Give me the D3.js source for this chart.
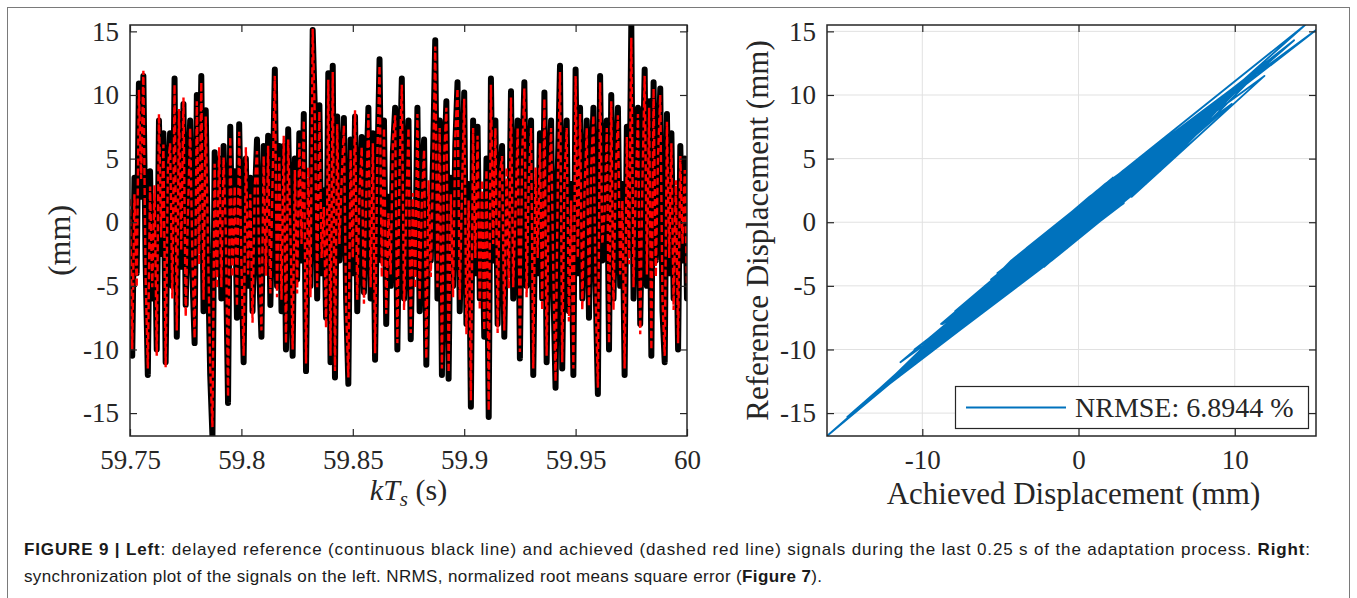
<!DOCTYPE html>
<html><head><meta charset="utf-8">
<script src="https://cdn.jsdelivr.net/npm/d3@7"></script>
<style>
html,body{margin:0;padding:0;background:#fff;}
svg{display:block;}
</style></head>
<body>
<svg id="c" width="1357" height="598"></svg>
<script>
// time window (s) and sample step
const tStart = 59.75, tEnd = 60.0, sampleStep = 0.001;
// delayed reference signal (mm), black line
const referenceDisp = [0.5,-10.5,3.5,-4.0,10.9,2.0,11.5,-3.0,-12.0,4.0,-6.0,1.5,-10.0,8.0,-2.5,7.0,-11.0,3.0,7.0,-5.0,
11.3,-9.0,8.5,-3.5,9.3,-6.5,2.0,8.0,-4.0,-9.5,10.0,-2.0,11.5,-7.0,8.8,-3.0,-12.0,-16.8,5.5,-4.0,
5.0,-6.0,6.0,-2.0,-14.2,7.5,-3.0,4.0,-7.5,7.7,-2.0,-11.0,5.0,-5.0,3.5,-7.0,1.5,6.5,-4.0,-9.0,
6.0,-3.0,6.8,-6.5,2.0,12.0,-5.0,6.0,-7.0,6.0,-10.0,7.3,-2.0,-10.5,5.0,-4.5,7.0,-3.0,8.5,-11.7,
3.0,-5.0,15.1,8.5,-6.0,9.2,-4.0,2.5,-7.5,11.7,-11.0,12.3,-12.2,8.3,-3.0,2.0,8.2,-6.0,-12.7,6.5,
-4.0,8.3,-7.0,1.0,6.7,-5.5,3.0,9.0,-6.0,7.0,-10.8,4.0,12.8,-3.0,8.0,-8.0,2.0,-5.0,5.5,9.0,
-10.0,3.0,11.3,-6.0,2.5,8.0,-9.2,1.0,-4.0,9.0,-7.0,3.0,6.5,-11.2,2.0,-3.0,5.0,14.3,-6.0,8.0,
-12.0,4.0,9.5,-12.3,3.5,-5.0,6.0,11.0,-7.0,1.0,10.2,-8.0,3.0,-14.5,8.0,-4.0,7.5,-6.0,2.0,-9.0,
5.0,-15.3,11.3,-3.0,8.0,-8.0,2.5,6.0,-9.0,3.0,-4.0,10.3,-6.0,2.0,8.0,-10.7,4.0,11.0,-5.0,2.0,
8.0,-12.0,3.0,-4.0,7.0,-6.0,10.2,-11.0,1.5,8.0,-5.0,-13.0,4.0,12.3,-11.5,2.0,8.0,-7.0,3.0,-12.0,
12.0,-4.0,9.0,-6.0,1.0,8.0,-7.5,3.0,9.0,-5.0,-13.5,11.5,-3.0,2.0,8.0,-10.0,10.0,-6.0,2.5,9.0,
-5.0,3.0,-12.0,7.5,-2.0,15.5,-6.0,4.0,9.0,-8.0,2.0,12.0,-5.0,9.5,-10.5,11.0,-3.0,4.0,10.5,-7.0,
-11.0,8.5,-4.0,7.0,-6.0,2.0,-10.0,6.0,-3.0,5.0,-6.0];
// achieved signal (mm), dashed red line
const achievedDisp = [1.8,-10.0,2.2,-5.1,10.4,3.4,11.9,-4.3,-11.5,2.8,-5.1,2.9,-10.5,8.5,-1.2,6.1,-11.4,4.3,6.2,-6.0,
10.8,-8.5,8.9,-2.2,9.8,-7.4,0.7,7.4,-2.8,-9.1,9.5,-3.3,11.0,-6.1,8.3,-1.7,-11.4,-16.1,4.6,-5.2,
5.9,-5.1,5.1,-0.7,-13.7,6.7,-4.3,2.8,-6.6,7.1,-3.3,-10.5,5.9,-4.1,2.2,-7.9,2.8,5.6,-2.8,-8.5,
5.2,-4.2,6.0,-5.6,3.3,11.5,-5.9,5.1,-6.1,6.8,-9.5,6.5,-0.7,-10.0,4.1,-5.6,6.2,-1.7,8.0,-11.1,
4.3,-5.9,15.2,7.9,-5.1,8.7,-2.8,1.2,-8.3,11.2,-10.5,11.8,-11.7,7.7,-1.7,3.3,7.6,-6.9,-12.2,5.7,
-2.8,8.8,-6.1,2.3,5.9,-6.4,1.7,8.5,-5.1,6.2,-10.3,5.2,12.3,-4.3,7.4,-7.2,0.7,-4.1,6.4,8.4,
-9.5,4.3,10.8,-6.9,1.2,7.4,-8.7,2.3,-5.2,8.5,-6.1,1.7,5.7,-10.7,3.3,-4.3,4.1,13.8,-5.1,7.4,
-11.5,5.2,9.0,-11.8,2.2,-5.9,6.8,10.5,-6.1,2.3,9.7,-8.8,1.7,-14.0,7.4,-2.8,6.8,-6.9,3.3,-8.5,
4.1,-14.8,10.8,-1.7,7.4,-8.7,3.8,5.2,-8.5,4.3,-5.2,9.8,-5.1,0.7,7.4,-10.2,5.2,10.5,-5.9,3.3,
7.4,-11.5,4.3,-2.8,6.2,-6.9,9.7,-10.5,2.8,7.4,-4.1,-12.5,2.8,11.8,-11.0,3.3,7.4,-7.8,1.7,-11.5,
11.5,-2.8,8.5,-6.9,2.3,7.4,-6.6,4.3,8.4,-5.9,-13.0,11.0,-1.7,0.7,7.4,-9.5,9.5,-6.9,3.8,8.4,
-4.1,1.7,-11.5,6.7,-3.3,14.5,-5.1,2.8,8.5,-8.8,3.3,11.5,-4.1,9.0,-10.0,10.5,-4.3,5.2,10.0,-6.1,
-10.5,7.9,-2.8,6.2,-6.9,3.3,-9.5,5.2,-1.7,4.1,-5.1];
// tick values and labels
const leftXTicks = [59.75, 59.8, 59.85, 59.9, 59.95, 60];
const leftXTickLabels = ["59.75","59.8","59.85","59.9","59.95","60"];
const yTicks = [-15,-10,-5,0,5,10,15];
const rightXTicks = [-10, 0, 10];
const legendLabel = "NRMSE: 6.8944 %";
const captionLine1 = [["FIGURE 9 | Left",true],[": delayed reference (continuous black line) and achieved (dashed red line) signals during the last 0.25 s of the adaptation process. ",false],["Right",true],[":",false]];
const captionLine2 = [["synchronization plot of the signals on the left. NRMS, normalized root means square error (",false],["Figure 7",true],[").",false]];

const times = referenceDisp.map((_, i) => tStart + i * sampleStep);
const pairs = referenceDisp.map((r, i) => ({t: times[i], ref: r, ach: achievedDisp[i]}));

const svg = d3.select("#c");
const AX = "#262626";
const SERIF = '"Liberation Serif","Times New Roman",serif';
const SANS = '"Liberation Sans",Arial,Helvetica,sans-serif';
const numFmt = d => String(d);

// outer frame
svg.append("rect").attr("x",7.5).attr("y",7.5).attr("width",1342).attr("height",600)
  .attr("fill","none").attr("stroke","#7a7a7a").attr("stroke-width",1);

const yMin = d3.min(referenceDisp.concat(achievedDisp)), yMax = d3.max(referenceDisp.concat(achievedDisp));

// ---------- LEFT ----------
const L = {l:130, r:687, t:25, b:436};
const xL = d3.scaleLinear().domain([tStart, tEnd]).range([L.l, L.r]);
const yL = d3.scaleLinear().domain([yMin, yMax]).range([L.b, L.t]);

svg.append("clipPath").attr("id","clipL").append("rect")
  .attr("x",L.l).attr("y",L.t).attr("width",L.r-L.l).attr("height",L.b-L.t);

const gL = svg.append("g").attr("clip-path","url(#clipL)");
const lineRef = d3.line().x(d=>xL(d.t)).y(d=>yL(d.ref));
const lineAch = d3.line().x(d=>xL(d.t)).y(d=>yL(d.ach));
gL.append("path").datum(pairs).attr("d",lineRef).attr("fill","none")
  .attr("stroke","#000").attr("stroke-width",6).attr("stroke-linejoin","round").attr("stroke-linecap","round");
gL.append("path").datum(pairs).attr("d",lineAch).attr("fill","none")
  .attr("stroke","#ff0000").attr("stroke-width",2.4).attr("stroke-dasharray","7,3");

function styleAxis(g, fs){
  g.select(".domain").remove();
  g.selectAll(".tick line").attr("stroke",AX).attr("stroke-width",1.2);
  g.selectAll(".tick text").attr("fill",AX).attr("font-size",fs).attr("font-family",SERIF);
}
const tk = 7, TFS = 27;
svg.append("g").attr("transform",`translate(0,${L.b})`)
  .call(d3.axisBottom(xL).tickValues(leftXTicks).tickFormat((d,i)=>leftXTickLabels[i]).tickSizeInner(-tk).tickSizeOuter(0).tickPadding(14))
  .call(g=>styleAxis(g,TFS));
svg.append("g").attr("transform",`translate(0,${L.t})`)
  .call(d3.axisTop(xL).tickValues(leftXTicks).tickFormat("").tickSizeInner(-tk).tickSizeOuter(0))
  .call(g=>styleAxis(g,TFS));
svg.append("g").attr("transform",`translate(${L.l},0)`)
  .call(d3.axisLeft(yL).tickValues(yTicks).tickFormat(numFmt).tickSizeInner(-tk).tickSizeOuter(0).tickPadding(11))
  .call(g=>styleAxis(g,TFS));
svg.append("g").attr("transform",`translate(${L.r},0)`)
  .call(d3.axisRight(yL).tickValues(yTicks).tickFormat("").tickSizeInner(-tk).tickSizeOuter(0))
  .call(g=>styleAxis(g,TFS));
svg.append("rect").attr("x",L.l).attr("y",L.t).attr("width",L.r-L.l).attr("height",L.b-L.t)
  .attr("fill","none").attr("stroke",AX).attr("stroke-width",1.5);

// labels left
svg.append("text").attr("transform",`translate(70,${(L.t+L.b)/2+10}) rotate(-90)`)
  .attr("text-anchor","middle").attr("font-family",SERIF).attr("font-size",32).attr("fill",AX).text("(mm)");
const xlab = svg.append("text").attr("x",(L.l+L.r)/2).attr("y",500).attr("text-anchor","middle")
  .attr("font-family",SERIF).attr("font-size",30).attr("fill",AX);
xlab.append("tspan").attr("font-style","italic").text("kT");
xlab.append("tspan").attr("font-style","italic").attr("font-size",21).attr("dy",6).text("s");
xlab.append("tspan").attr("dy",-6).text(" (s)");

// ---------- RIGHT ----------
const R = {l:827, r:1316, t:25, b:436};
const xR = d3.scaleLinear().domain(d3.extent(achievedDisp)).range([R.l, R.r]);
const yR = d3.scaleLinear().domain(d3.extent(referenceDisp)).range([R.b, R.t]);

svg.append("g").selectAll("line").data(rightXTicks).join("line")
  .attr("x1",d=>xR(d)).attr("x2",d=>xR(d)).attr("y1",R.t).attr("y2",R.b)
  .attr("stroke","#e1e1e1").attr("stroke-width",1);
svg.append("g").selectAll("line").data(yTicks).join("line")
  .attr("y1",d=>yR(d)).attr("y2",d=>yR(d)).attr("x1",R.l).attr("x2",R.r)
  .attr("stroke","#e1e1e1").attr("stroke-width",1);

svg.append("clipPath").attr("id","clipR").append("rect")
  .attr("x",R.l).attr("y",R.t).attr("width",R.r-R.l).attr("height",R.b-R.t);
svg.append("g").attr("clip-path","url(#clipR)").append("path").datum(pairs)
  .attr("d", d3.line().x(d=>xR(d.ach)).y(d=>yR(d.ref)))
  .attr("fill","none").attr("stroke","#0072BD").attr("stroke-width",1.8).attr("stroke-linejoin","round");

svg.append("g").attr("transform",`translate(0,${R.b})`)
  .call(d3.axisBottom(xR).tickValues(rightXTicks).tickFormat(numFmt).tickSizeInner(-tk).tickSizeOuter(0).tickPadding(14))
  .call(g=>styleAxis(g,TFS));
svg.append("g").attr("transform",`translate(0,${R.t})`)
  .call(d3.axisTop(xR).tickValues(rightXTicks).tickFormat("").tickSizeInner(-tk).tickSizeOuter(0))
  .call(g=>styleAxis(g,TFS));
svg.append("g").attr("transform",`translate(${R.l},0)`)
  .call(d3.axisLeft(yR).tickValues(yTicks).tickFormat(numFmt).tickSizeInner(-tk).tickSizeOuter(0).tickPadding(11))
  .call(g=>styleAxis(g,TFS));
svg.append("g").attr("transform",`translate(${R.r},0)`)
  .call(d3.axisRight(yR).tickValues(yTicks).tickFormat("").tickSizeInner(-tk).tickSizeOuter(0))
  .call(g=>styleAxis(g,TFS));
svg.append("rect").attr("x",R.l).attr("y",R.t).attr("width",R.r-R.l).attr("height",R.b-R.t)
  .attr("fill","none").attr("stroke",AX).attr("stroke-width",1.5);

svg.append("text").attr("transform",`translate(768,${(R.t+R.b)/2}) rotate(-90)`)
  .attr("text-anchor","middle").attr("font-family",SERIF).attr("font-size",31).attr("fill",AX)
  .text("Reference Displacement (mm)");
svg.append("text").attr("x",(R.l+R.r)/2+2).attr("y",504).attr("text-anchor","middle")
  .attr("font-family",SERIF).attr("font-size",31).attr("fill",AX).text("Achieved Displacement (mm)");

// legend
const lg = svg.append("g");
lg.append("rect").attr("x",955.5).attr("y",386.5).attr("width",353).attr("height",42)
  .attr("fill","#fff").attr("stroke",AX).attr("stroke-width",1.2);
lg.append("line").attr("x1",966).attr("x2",1066).attr("y1",407.5).attr("y2",407.5)
  .attr("stroke","#0072BD").attr("stroke-width",1.8);
lg.append("text").attr("x",1075).attr("y",417).attr("font-family",SERIF).attr("font-size",28)
  .attr("fill",AX).text(legendLabel);

// caption
function caption(parts, y, len){
  const t = svg.append("text").attr("x",24).attr("y",y).attr("font-family",SANS).attr("font-size",17).attr("fill","#1a1a1a")
    .attr("textLength",len).attr("lengthAdjust","spacing");
  parts.forEach(([s,b])=>t.append("tspan").attr("font-weight",b?"bold":"normal").text(s));
}
caption(captionLine1, 555, 1286);
caption(captionLine2, 582, 798);
</script>
</body></html>
